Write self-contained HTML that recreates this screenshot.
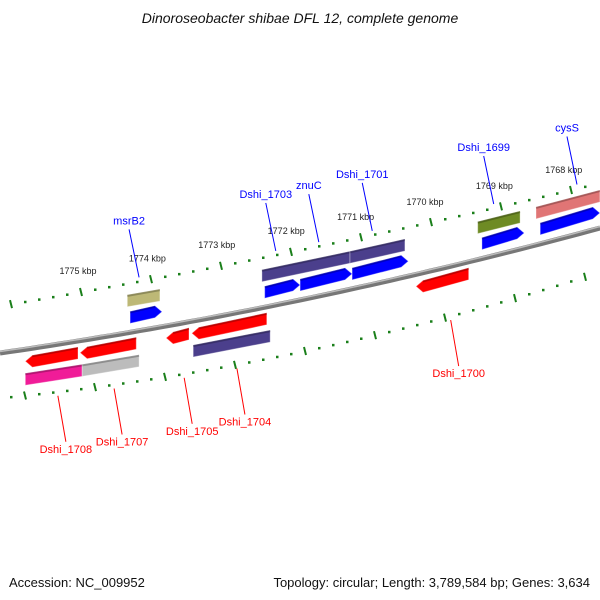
<!DOCTYPE html>
<html><head><meta charset="utf-8"><style>
body{margin:0;background:#fff}
svg{display:block;font-family:"Liberation Sans","DejaVu Sans",sans-serif}
</style></head><body>
<svg id="c" width="600" height="600" viewBox="0 0 600 600">
<text x="300" y="23" text-anchor="middle" font-size="14" font-style="italic" fill="#111">Dinoroseobacter shibae DFL 12, complete genome</text>
<text x="9" y="587" font-size="13" fill="#111">Accession: NC_009952</text>
<text x="590" y="587" font-size="13" fill="#111" text-anchor="end">Topology: circular; Length: 3,789,584 bp; Genes: 3,634</text>
<g id="g"></g>
</svg>
<script>
// data
const tickKbp=[1775,1774,1773,1772,1771,1770,1769,1768];
const tickLabels=["1775 kbp","1774 kbp","1773 kbp","1772 kbp","1771 kbp","1770 kbp","1769 kbp","1768 kbp"];
const geneNames=["msrB2-cds","msrB2","Dshi_1703-cds","znuC","Dshi_1701","Dshi_1703-cog","Dshi_1701-cog","Dshi_1699","Dshi_1699-cog","cysS","cysS-cog",
 "Dshi_1708","Dshi_1707","Dshi_1705","Dshi_1704","Dshi_1700","Dshi_1708-cog","Dshi_1707-cog","Dshi_1704-cog"];
const geneStart=[1774.25,1774.29,1772.31,1771.80,1771.05,1772.35,1771.08,1769.18,1769.24,1768.34,1768.40,
 1775.76,1774.97,1773.73,1773.36,1770.13,1775.76,1774.94,1773.34];
const geneEnd=[1773.79,1773.82,1771.80,1771.05,1770.24,1771.08,1770.29,1768.57,1768.63,1767.48,1767.48,
 1775.00,1774.16,1773.40,1772.28,1769.37,1774.94,1774.12,1772.23];
const geneRow=[-1,-2,-1,-1,-1,-2,-2,-1,-2,-1,-2, 1,1,1,1,1, 2,2,2];
const geneColor=["#0000ff","#bdb876","#0000ff","#0000ff","#0000ff","#4b3f8c","#4b3f8c","#0000ff","#6e8b24","#0000ff","#e07575",
 "#ff0000","#ff0000","#ff0000","#ff0000","#ff0000","#f01c98","#bcbcbc","#4b3f8c"];
const labelNames=["msrB2","Dshi_1703","znuC","Dshi_1701","Dshi_1699","cysS","Dshi_1708","Dshi_1707","Dshi_1705","Dshi_1704","Dshi_1700"];
const labelKbp=[1774.12,1772.15,1771.53,1770.76,1769.01,1767.81,1775.29,1774.48,1773.47,1772.71,1769.63];
const labelSide=[-1,-1,-1,-1,-1,-1,1,1,1,1,1];

const X=k=>78+(1775-k)*69.4;
const quad=(a,c,b)=>x=>{const t=x/600;return (1-t)*(1-t)*a+2*t*(1-t)*c+t*t*b;};
const bb=quad(353,309.5,228), up=quad(306,255.5,183), lo=quad(398,369,272);
const NS="http://www.w3.org/2000/svg", G=document.getElementById('g');
function mk(t,a,name){const e=document.createElementNS(NS,t);for(const k in a)e.setAttribute(k,a[k]);


G.appendChild(e);return e;}
let d="";for(let x=0;x<=600;x+=10)d+=(x?"L":"M")+x+","+bb(x).toFixed(1);
mk('path',{d:d,stroke:"#777",'stroke-width':5,fill:"none"},'backbone');
mk('path',{d:d,stroke:"#bbb",'stroke-width':1.5,fill:"none",transform:"translate(0,-1.5)"},'backbone-highlight');
function ring(f,x0,name){for(let i=-10;i<60;i++){const x=x0+i*70/5;if(x<2||x>598)continue;const y=f(x);
 if(i%5===0) mk('line',{x1:x-1,y1:y-4,x2:x+1,y2:y+4,stroke:"#1a7f1a",'stroke-width':2},name+'-major-tick');
 else mk('rect',{x:x-1,y:y-1,width:2.5,height:2.5,fill:"#1a7f1a"},name+'-minor-tick');}}
ring(up,X(1775)+3,'upper-ring');ring(lo,25,'lower-ring');
tickKbp.forEach((k,i)=>{const x=X(k);mk('text',{x:x,y:up(x+3)-18,'font-size':9,fill:"#222",'text-anchor':"middle"},'tick-label').textContent=tickLabels[i];});
const off={"-1":-15,"-2":-32,"1":12,"2":30};
geneNames.forEach((n,i)=>{const x0=X(geneStart[i]),x1=X(geneEnd[i]),o=off[geneRow[i]],h=12;
 const y0=bb(x0)+o,y1=bb(x1)+o;let p;
 if(geneRow[i]===-1){p=[[x0,y0-h/2],[x1-7,y1-h/2],[x1,y1],[x1-7,y1+h/2],[x0,y0+h/2]];}
 else if(geneRow[i]===1){p=[[x0+7,y0-h/2],[x1,y1-h/2],[x1,y1+h/2],[x0+7,y0+h/2],[x0,y0]];}
 else p=[[x0,y0-h/2],[x1,y1-h/2],[x1,y1+h/2],[x0,y0+h/2]];
 mk('polygon',{points:p.map(q=>q.map(v=>v.toFixed(1)).join(',')).join(' '),fill:geneColor[i],stroke:"rgba(255,255,255,0.35)",'stroke-width':1},'gene-'+n);
 mk('line',{x1:x0+(geneRow[i]===1?7:0),y1:y0-h/2+1,x2:x1-(geneRow[i]===-1?7:0),y2:y1-h/2+1,stroke:"rgba(0,0,0,0.25)",'stroke-width':2},'gene-shade');});
labelNames.forEach((n,i)=>{const x=X(labelKbp[i]);const s=labelSide[i];
 if(s<0){const y=up(x)-4;mk('line',{x1:x,y1:y,x2:x-10,y2:y-48,stroke:"#00f",'stroke-width':1},'label-line');
  mk('text',{x:x-10,y:y-53,'font-size':11,fill:"#00f",'text-anchor':"middle"},'gene-label-'+n).textContent=n;}
 else{const y=lo(x)+4;mk('line',{x1:x,y1:y,x2:x+8,y2:y+46,stroke:"#f00",'stroke-width':1},'label-line');
  mk('text',{x:x+8,y:y+57,'font-size':11,fill:"#f00",'text-anchor':"middle"},'gene-label-'+n).textContent=n;}});
</script>
</body></html>
